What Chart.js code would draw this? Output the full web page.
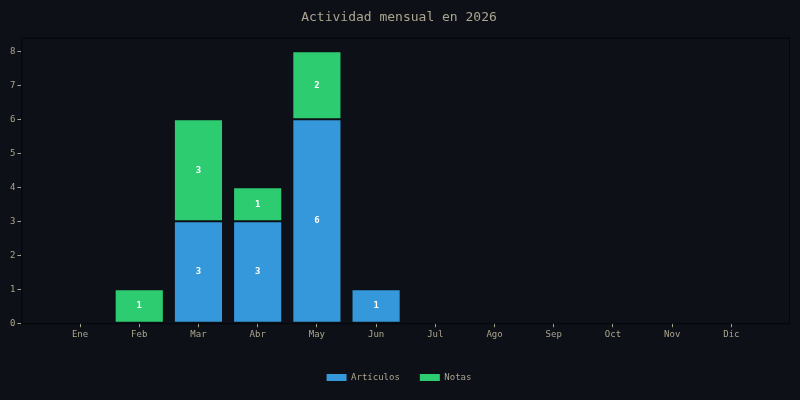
<!DOCTYPE html>
<html>
<head>
<meta charset="utf-8">
<script src="https://cdn.jsdelivr.net/npm/chart.js@4"></script>
<style>
  html, body { margin: 0; padding: 0; background: #0d1117; }
  #wrap { width: 800px; height: 400px; }
</style>
</head>
<body>
<div id="wrap"><canvas id="chart" width="800" height="400"></canvas></div>
<script>
const months = ['Ene', 'Feb', 'Mar', 'Abr', 'May', 'Jun', 'Jul', 'Ago', 'Sep', 'Oct', 'Nov', 'Dic'];
const articulos = [0, 0, 3, 3, 6, 1, 0, 0, 0, 0, 0, 0];
const notas = [0, 1, 3, 1, 2, 0, 0, 0, 0, 0, 0, 0];
const yTicks = [0, 1, 2, 3, 4, 5, 6, 7, 8];

const textColor = '#aba48f';
const mono = "'DejaVu Sans Mono', monospace";

const toPoints = values => values.map((v, i) => ({ x: i, y: v }));

const frame = {
  id: 'frame',
  afterDraw(chart) {
    const { ctx, chartArea: a } = chart;
    ctx.save();
    ctx.strokeStyle = '#03060a';
    ctx.lineWidth = 1;
    ctx.strokeRect(a.left + 0.5, a.top + 0.5, a.right - a.left - 1, a.bottom - a.top);
    ctx.restore();
  }
};

const valueLabels = {
  id: 'valueLabels',
  afterDatasetsDraw(chart) {
    const { ctx } = chart;
    ctx.save();
    ctx.fillStyle = '#ffffff';
    ctx.font = `bold 9px ${mono}`;
    ctx.textAlign = 'center';
    ctx.textBaseline = 'middle';
    chart.data.datasets.forEach((ds, di) => {
      chart.getDatasetMeta(di).data.forEach((bar, i) => {
        const v = ds.data[i].y;
        if (!v) return;
        ctx.fillText(String(v), bar.x, (bar.y + bar.base) / 2);
      });
    });
    ctx.restore();
  }
};

const edge = 'rgba(13,17,23,0.2)';

new Chart(document.getElementById('chart'), {
  type: 'bar',
  data: {
    datasets: [
      { label: 'Artículos', data: toPoints(articulos), backgroundColor: '#3498db', borderColor: edge, borderWidth: ctx => (ctx.raw && ctx.raw.y ? 1 : 0), borderSkipped: false },
      { label: 'Notas', data: toPoints(notas), backgroundColor: '#2ecc71', borderColor: edge, borderWidth: ctx => (ctx.raw && ctx.raw.y ? 1 : 0), borderSkipped: false },
    ]
  },
  options: {
    responsive: false,
    animation: false,
    layout: { padding: { left: 8, right: 10, top: 0, bottom: 8 } },
    datasets: { bar: { barPercentage: 0.83, categoryPercentage: 1 } },
    scales: {
      x: {
        type: 'linear',
        stacked: true,
        offset: false,
        min: -0.99,
        max: 11.99,
        afterBuildTicks(axis) { axis.ticks = months.map((m, i) => ({ value: i })); },
        afterFit(axis) { axis.height += 11; },
        ticks: { color: textColor, font: { family: mono, size: 9 }, padding: 2, autoSkip: false, maxRotation: 0, callback: v => months[v] },
        grid: { display: true, offset: false, drawOnChartArea: false, drawTicks: true, tickLength: 4, color: textColor },
        border: { display: false }
      },
      y: {
        stacked: true,
        min: 0,
        max: 8.4,
        afterBuildTicks(axis) { axis.ticks = yTicks.map(v => ({ value: v })); },
        ticks: { color: textColor, font: { family: mono, size: 9 }, padding: 2 },
        grid: { display: true, drawOnChartArea: false, drawTicks: true, tickLength: 4, color: textColor },
        border: { display: false }
      }
    },
    plugins: {
      title: {
        display: true,
        text: 'Actividad mensual en 2026',
        color: textColor,
        font: { family: mono, size: 13, weight: 'normal' },
        padding: { top: 10, bottom: 12 }
      },
      legend: {
        position: 'bottom',
        labels: { color: textColor, font: { family: mono, size: 9 }, boxWidth: 20, boxHeight: 7, padding: 20 }
      },
      tooltip: { enabled: false }
    }
  },
  plugins: [frame, valueLabels]
});
</script>
</body>
</html>
